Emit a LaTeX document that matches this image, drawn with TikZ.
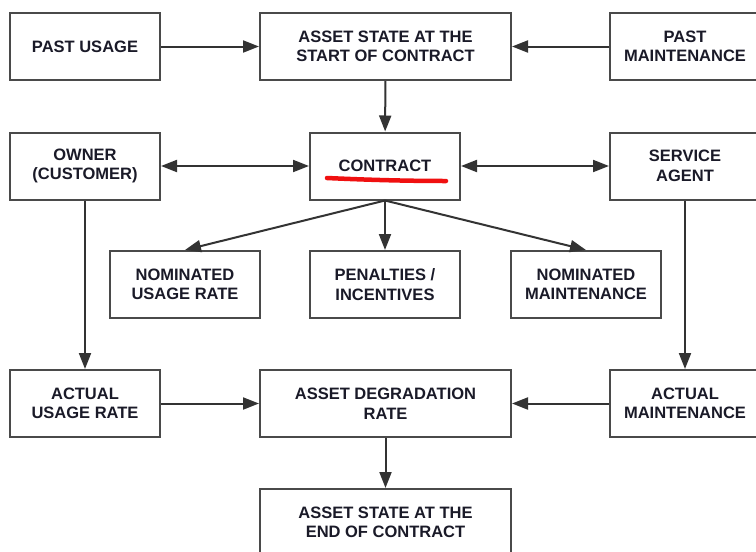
\documentclass[tikz,border=0pt]{standalone}
\usepackage{fontspec}
\setmainfont{Liberation Sans}
\usetikzlibrary{arrows.meta}
\definecolor{boxline}{HTML}{4A4A4A}
\definecolor{wire}{HTML}{333333}
\definecolor{ink}{HTML}{1A1A28}
\definecolor{marker}{HTML}{F01010}
\tikzset{
  blk/.style={draw=boxline, line width=2pt, fill=white, minimum height=67pt,
    align=center, inner sep=2pt, text=ink,
    font=\fontsize{16.5}{19.5}\selectfont\bfseries},
  narrow/.style={blk, minimum width=150pt},
  wide/.style={blk, minimum width=251pt},
  tip/.style={Triangle[length=16pt, width=12pt]},
  link/.style={draw=wire, line width=2pt, -{Triangle[length=16pt, width=12pt]}},
  twoway/.style={link, {Triangle[length=16pt, width=12pt]}-{Triangle[length=16pt, width=12pt]}}
}
\begin{document}
\begin{tikzpicture}[x=1pt, y=-1pt]
  \useasboundingbox (0,0) rectangle (756,552);
  \clip (0,0) rectangle (756,552);
  \fill[white] (0,0) rectangle (756,552);

  % top row
  \node[narrow] (pu) at (85,46.5) {PAST USAGE};
  \node[wide]   (as) at (385.5,46.5) {ASSET STATE AT THE\\START OF CONTRACT};
  \node[narrow] (pm) at (685,46.5) {PAST\\MAINTENANCE};

  % contract row
  \node[narrow] (ow) at (85,166) {OWNER\\(CUSTOMER)};
  \node[narrow] (ct) at (385,166) {CONTRACT};
  \node[narrow] (sa) at (685,166) {SERVICE\\AGENT};

  % contract terms
  \node[narrow] (nu) at (185,284.5) {NOMINATED\\USAGE RATE};
  \node[narrow] (pi) at (385,284.5) {PENALTIES /\\INCENTIVES};
  \node[narrow] (nm) at (586,284.5) {NOMINATED\\MAINTENANCE};

  % actual behaviour
  \node[narrow] (au) at (85,403.5) {ACTUAL\\USAGE RATE};
  \node[wide]   (dg) at (385.5,403.5) {ASSET DEGRADATION\\RATE};
  \node[narrow] (am) at (685,403.5) {ACTUAL\\MAINTENANCE};

  % outcome
  \node[wide]   (es) at (385.5,522.5) {ASSET STATE AT THE\\END OF CONTRACT};

  % hand-drawn emphasis under the contract label
  \draw[marker, line width=4.5pt, line cap=round]
    (327,178) .. controls (370,180) and (410,181) .. (446,181);

  % connectors
  \draw[link] (pu) -- (as);
  \draw[link] (pm) -- (as);
  \draw[link] (as) -- (ct);
  \draw[twoway] (ow) -- (ct);
  \draw[twoway] (ct) -- (sa);
  \draw[link] (ct.south) -- (nu.north);
  \draw[link] (ct.south) -- (pi.north);
  \draw[link] (ct.south) -- (nm.north);
  \draw[link] (ow) -- (au);
  \draw[link] (sa) -- (am);
  \draw[link] (au) -- (dg);
  \draw[link] (am) -- (dg);
  \draw[link] (dg) -- (es);
\end{tikzpicture}
\end{document}
